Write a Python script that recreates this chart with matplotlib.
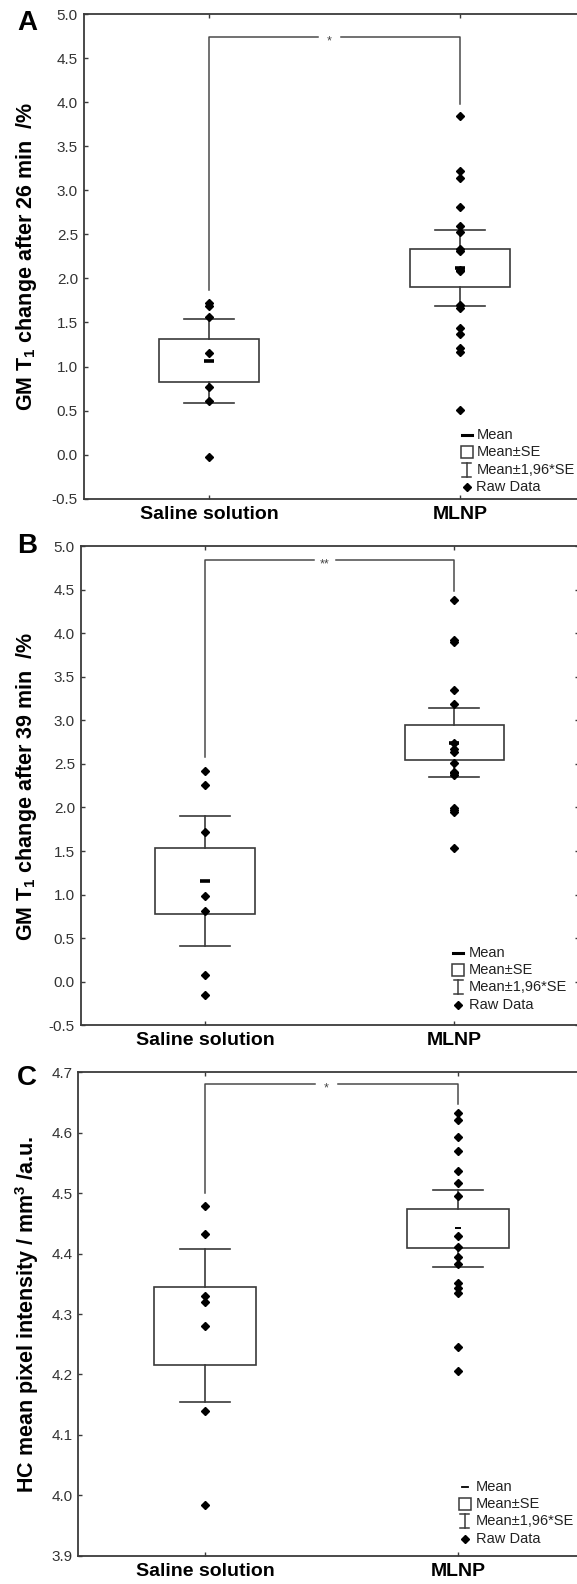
import matplotlib
matplotlib.use("Agg")
import matplotlib.pyplot as plt
from matplotlib.lines import Line2D
from matplotlib.patches import Rectangle
from matplotlib.transforms import Affine2D
import numpy as np

plt.rcParams['font.family'] = ['Liberation Sans', 'DejaVu Sans']
plt.rcParams['mathtext.fontset'] = 'custom'
plt.rcParams['mathtext.rm'] = 'Liberation Sans'
plt.rcParams['mathtext.bf'] = 'Liberation Sans:bold'
plt.rcParams['mathtext.it'] = 'Liberation Sans:italic'

W, H = 577, 1584

groups = ["Saline solution", "MLNP"]

# Panel A: GM T1 change after 26 min (%)
a_saline = [1.72, 1.69, 1.557, 1.149, 0.763, 0.611, -0.025]
a_mlnp = [3.842, 3.218, 3.135, 2.806, 2.594, 2.529, 2.33, 2.31, 2.10, 2.085,
          1.70, 1.665, 1.439, 1.364, 1.205, 1.167, 0.505]
a_mean = [1.065, 2.119]
a_se = [0.242, 0.220]
a_bracket = [4.742, 1.867, 3.975]     # bar level, left end, right end
a_sig = "*"

# Panel B: GM T1 change after 39 min (%)
b_saline = [2.42, 2.256, 1.72, 0.982, 0.809, 0.075, -0.147]
b_mlnp = [4.38, 3.92, 3.895, 3.347, 3.186, 2.742, 2.666, 2.638, 2.505, 2.405,
          2.39, 2.37, 1.996, 1.975, 1.95, 1.536]
b_mean = [1.157, 2.744]
b_se = [0.380, 0.201]
b_bracket = [4.839, 2.581, 4.483]
b_sig = "**"

# Panel C: HC mean pixel intensity / mm^3 (a.u.)
c_saline = [4.479, 4.432, 4.33, 4.32, 4.28, 4.139, 3.984]
c_mlnp = [4.633, 4.621, 4.593, 4.570, 4.536, 4.517, 4.496, 4.429, 4.411, 4.395,
          4.383, 4.351, 4.343, 4.334, 4.246, 4.206]
c_mean = [4.2805, 4.442]
c_se = [0.0645, 0.0325]
c_bracket = [4.681, 4.500, 4.6475]
c_sig = "*"

a_ticks = [-0.5, 0.0, 0.5, 1.0, 1.5, 2.0, 2.5, 3.0, 3.5, 4.0, 4.5, 5.0]
c_ticks = [3.9, 4.0, 4.1, 4.2, 4.3, 4.4, 4.5, 4.6, 4.7]

a_ylabel = r"GM T$_\mathbf{1}$ change after 26 min  /%"
b_ylabel = r"GM T$_\mathbf{1}$ change after 39 min  /%"
c_ylabel = r"HC mean pixel intensity / mm$^\mathbf{3}$ /a.u."

key_labels = ["Mean", "Mean\u00b1SE", "Mean\u00b11,96*SE", "Raw Data"]

INK = "#3a3a3a"

fig = plt.figure(figsize=(W / 100, H / 100), dpi=100)
pix = Affine2D().scale(1.0 / W, -1.0 / H).translate(0, 1) + fig.transFigure


def add_axes_px(left, top, right, bottom):
    return fig.add_axes([left / W, 1 - bottom / H, (right - left) / W, (bottom - top) / H])


def draw_panel(ax, saline, mlnp, means, ses, ticks, bracket, sig, mean_ms, mean_mew):
    xs = [1, 2]
    for x, m, s in zip(xs, means, ses):
        ax.add_patch(Rectangle((x - 0.2, m - s), 0.4, 2 * s, fill=False,
                               ec=INK, lw=1.2, zorder=2))
        ax.plot([x, x], [m + s, m + 1.96 * s], color=INK, lw=1.2, zorder=2)
        ax.plot([x, x], [m - s, m - 1.96 * s], color=INK, lw=1.2, zorder=2)
        ax.plot([x - 0.1, x + 0.1], [m + 1.96 * s] * 2, color=INK, lw=1.2, zorder=2)
        ax.plot([x - 0.1, x + 0.1], [m - 1.96 * s] * 2, color=INK, lw=1.2, zorder=2)
        ax.plot([x], [m], marker="_", ms=mean_ms, mew=mean_mew, color="black",
                linestyle="none", zorder=3)
    for x, vals in zip(xs, [saline, mlnp]):
        ax.plot([x] * len(vals), vals, marker="D", ms=4.3, color="black",
                linestyle="none", zorder=4)

    top, left_end, right_end = bracket
    ax.plot([1, 1, 1.435], [left_end, top, top], color="#4a4a4a", lw=1.1, zorder=2)
    ax.plot([1.525, 2, 2], [top, top, right_end], color="#4a4a4a", lw=1.1, zorder=2)
    ax.annotate(sig, (1.48, top), xytext=(0, -3.5), textcoords="offset points",
                ha="center", va="center", fontsize=9, color="#444444")

    ax.set_xlim(0.5, 2.5)
    ax.set_ylim(ticks[0], ticks[-1])
    ax.set_yticks(ticks)
    ax.set_yticklabels([f"{t:.1f}" for t in ticks])
    ax.set_xticks(xs)
    ax.set_xticklabels(groups, fontsize=14, fontweight="bold", color="black")
    ax.tick_params(axis="y", direction="in", length=3, width=1, color=INK,
                   labelsize=11, labelcolor="#333333", pad=4,
                   left=True, right=True)
    ax.tick_params(axis="x", direction="in", length=3, width=1, color=INK,
                   pad=5, top=True, bottom=True)
    for sp in ax.spines.values():
        sp.set_color(INK)
        sp.set_linewidth(1.3)


def draw_key(x_sym, y0, x_text, mean_small=False):
    ys = [y0 + 17.3 * i for i in range(4)]
    # mean dash
    half = 3 if mean_small else 5
    fig.add_artist(Line2D([x_sym - half, x_sym + half], [ys[0], ys[0]], transform=pix,
                          color="black", lw=1.3 if mean_small else 2.2))
    # mean +/- SE box
    fig.add_artist(Rectangle((x_sym - 6, ys[1] - 6), 12, 12, transform=pix,
                             fill=False, ec=INK, lw=1.1))
    # mean +/- 1.96 SE whisker
    fig.add_artist(Line2D([x_sym, x_sym], [ys[2] - 7, ys[2] + 7], transform=pix,
                          color=INK, lw=1.1))
    for yy in (ys[2] - 7, ys[2] + 7):
        fig.add_artist(Line2D([x_sym - 4.5, x_sym + 4.5], [yy, yy], transform=pix,
                              color=INK, lw=1.1))
    # raw data diamond
    fig.add_artist(Line2D([x_sym], [ys[3]], transform=pix, marker="D", ms=4.2,
                          color="black", linestyle="none"))
    for yy, lab in zip(ys, key_labels):
        fig.text(x_text, yy, lab, transform=pix, ha="left", va="center",
                 fontsize=10.5, color="#222222")


# Panel A
ax_a = add_axes_px(83.5, 14.0, 585.5, 498.7)
draw_panel(ax_a, a_saline, a_mlnp, a_mean, a_se, a_ticks, a_bracket, a_sig, 7, 2.6)
draw_key(466.5, 435.0, 476.5)

# Panel B
ax_b = add_axes_px(80.5, 546.0, 579.0, 1025.3)
draw_panel(ax_b, b_saline, b_mlnp, b_mean, b_se, a_ticks, b_bracket, b_sig, 7, 2.6)
draw_key(458.0, 952.7, 469.0)

# Panel C
ax_c = add_axes_px(78.4, 1072.3, 584.4, 1555.7)
draw_panel(ax_c, c_saline, c_mlnp, c_mean, c_se, c_ticks, c_bracket, c_sig, 4.5, 1.4)
draw_key(464.5, 1486.7, 475.5, mean_small=True)

# Y-axis titles and panel letters
for label, yc in [(a_ylabel, 256.0), (b_ylabel, 786.0), (c_ylabel, 1314.0)]:
    fig.text(27, yc, label, transform=pix, rotation=90, ha="center", va="center",
             fontsize=15.5, fontweight="bold", color="black")
for letter, yc in [("A", 23.0), ("B", 546.0), ("C", 1078.0)]:
    fig.text(27, yc, letter, transform=pix, ha="center", va="center",
             fontsize=20, fontweight="bold", color="black")

fig.savefig("out.png", dpi=100, facecolor="white")
